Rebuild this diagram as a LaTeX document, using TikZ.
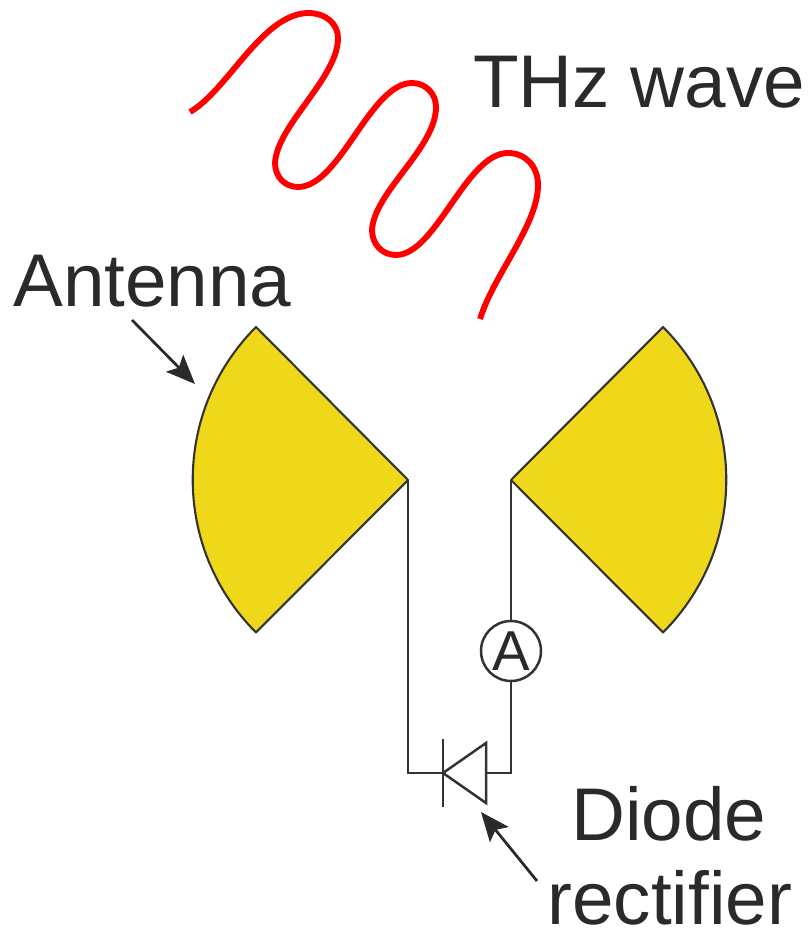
\documentclass[tikz,border=0pt]{standalone}
\usepackage{fontspec}
\setmainfont{Liberation Sans}
\usetikzlibrary{arrows.meta}

\definecolor{wire}{HTML}{333333}
\definecolor{labeltext}{HTML}{2B2A29}
\definecolor{hornfill}{HTML}{EFD81A}

\tikzset{
	wave/.style={draw=red, line width=0.118cm},
	horn/.style={draw=wire, fill=hornfill, line width=0.042cm, line join=round},
	circuit/.style={draw=wire, line width=0.05cm},
	callout/.style={draw=labeltext, line width=0.055cm, -{Stealth[length=0.58cm, width=0.48cm, inset=0.12cm]}},
	biglabel/.style={anchor=base west, inner sep=0pt, text=labeltext, font=\fontsize{42.5}{48}\selectfont},
}

\begin{document}
\begin{tikzpicture}[x=0.02cm, y=-0.02cm]
\useasboundingbox (0,0) rectangle (807,928);

\draw [wave] (190,112) .. controls (228,90) and (262,14) .. (308,13)
	.. controls (326,13) and (338,24) .. (338,38)
	.. controls (338,78) and (277,125) .. (275,163)
	.. controls (275,177) and (285,187) .. (298,187)
	.. controls (340,187) and (370,83) .. (412,83)
	.. controls (426,83) and (436,94) .. (436,107)
	.. controls (436,148) and (374,192) .. (372,230)
	.. controls (372,244) and (382,255) .. (396,255)
	.. controls (436,255) and (466,153) .. (508,153)
	.. controls (526,153) and (538,167) .. (538,185)
	.. controls (538,225) and (494,274) .. (480,319);

\coordinate (leftapex) at (408,480);
\coordinate (rightapex) at (511,480);

\draw [horn] (leftapex) -- (256,327) arc (225:135:216) -- cycle;
\draw [horn] (rightapex) -- (663,327) arc (-45:45:216) -- cycle;

\node (thzlabel) [biglabel] at (473,108) {THz wave};
\node (antennalabel) [biglabel] at (13,307) {Antenna};
\node (diodelabel) [biglabel] at (571,840) {Diode};
\node (rectifierlabel) [biglabel] at (547,924) {rectifier};

\node (ammeter) [circle, circuit, minimum size=1.2cm, inner sep=0pt, text=labeltext, font=\fontsize{32}{34}\selectfont] at (511,651) {A};

\coordinate (cathode) at (443,773);
\coordinate (anode) at (486,773);
\coordinate (cathodetop) at (443,739);
\coordinate (cathodebottom) at (443,807);
\coordinate (anodetop) at (486,743);
\coordinate (anodebottom) at (486,803);

\draw [circuit] (leftapex) |- (cathode);
\draw [circuit] (cathodetop) -- (cathodebottom);
\draw [circuit, line join=miter] (cathode) -- (anodetop) -- (anodebottom) -- cycle;
\draw [circuit] (rightapex) -- (ammeter);
\draw [circuit] (ammeter) |- (anode);

\coordinate (antennatail) at (132,320);
\coordinate (antennatip) at (195,384);
\coordinate (diodetail) at (537,881);
\coordinate (diodetip) at (481,812);

\draw [callout] (antennatail) -- (antennatip);
\draw [callout] (diodetail) -- (diodetip);

\end{tikzpicture}
\end{document}
